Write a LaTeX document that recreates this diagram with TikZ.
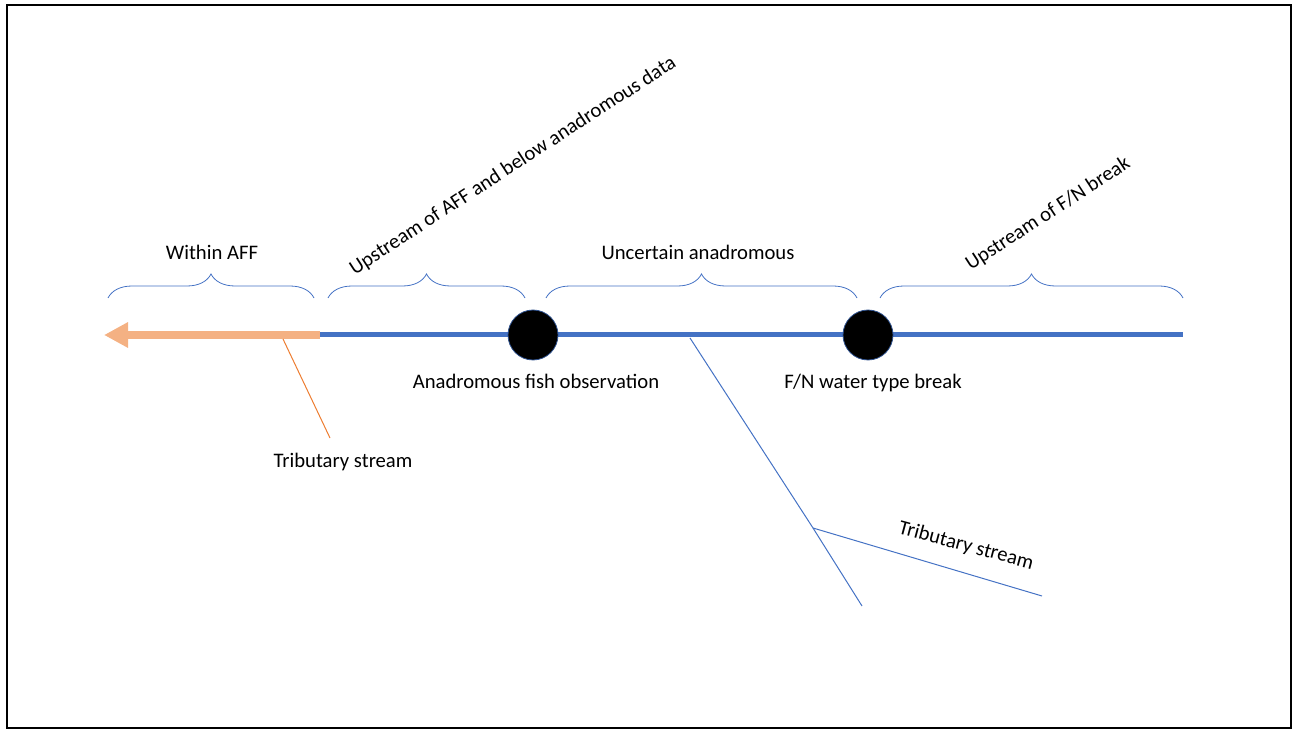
\documentclass[tikz,border=0pt]{standalone}
\usepackage{fontspec}
\setmainfont{Carlito}
\usetikzlibrary{arrows.meta,decorations.pathreplacing}
\definecolor{riverblue}{HTML}{4472C4}
\definecolor{darkrim}{HTML}{2F528F}
\definecolor{affpale}{HTML}{F4B183}
\definecolor{afforange}{HTML}{ED7D31}
\tikzset{
  reach/.style={draw=riverblue, line width=3.75pt},
  affreach/.style={draw=affpale, line width=6pt, -{Triangle[length=18pt,width=18pt]}},
  point/.style={circle, fill=black, draw=darkrim, line width=0.6pt, minimum size=37.5pt, inner sep=0pt},
  span/.style={draw=riverblue, line width=0.6pt, decorate, decoration={brace, amplitude=18pt, aspect=0.5}},
  trib/.style={draw=riverblue, line width=0.75pt},
  lbl/.style={font=\fontsize{15.5pt}{18pt}\selectfont, inner sep=1pt}
}
\begin{document}
\begin{tikzpicture}[x=0.75pt,y=-0.75pt]
\useasboundingbox (0,0) rectangle (1294,730);
\draw[line width=1.5pt] (7,5) rectangle (1291,728);

% main stream
\coordinate (west) at (104,335);
\coordinate (affend) at (320,335);
\coordinate (east) at (1183,335);
\draw[reach] (affend) -- (east);
\draw[affreach] (affend) -- (west);
\node[point] (obs) at (533,335) {};
\node[point] (fnbreak) at (868,335) {};
\node[lbl] (obslbl) at (536,381) {Anadromous fish observation};
\node[lbl] (fnlbl) at (873,383) {F/N water type break};

% tributaries
\coordinate (leftmouth) at (283,339);
\coordinate (leftend) at (330,438);
\draw[afforange, line width=0.75pt] (leftmouth) -- (leftend);
\node[lbl] (lefttrib) at (343,462) {Tributary stream};

\coordinate (rightmouth) at (690,338);
\coordinate (fork) at (813,528);
\coordinate (rightend) at (862,606);
\coordinate (branchend) at (1042,596);
\draw[trib] (rightmouth) -- (fork) -- (rightend);
\draw[trib] (fork) -- (branchend);
\node[lbl, rotate=-15] (righttrib) at (966,546) {Tributary stream};

% reaches
\draw[span] (108,298) -- (314,298);
\draw[span] (328,298) -- (525,298);
\draw[span] (546,298) -- (857,298);
\draw[span] (880,298) -- (1183,298);
\node[lbl] (within) at (212,252) {Within AFF};
\node[lbl, rotate=33] (below) at (513,166) {Upstream of AFF and below anadromous data};
\node[lbl] (uncertain) at (698,252) {Uncertain anadromous};
\node[lbl, rotate=33] (above) at (1048,214) {Upstream of F/N break};

\end{tikzpicture}
\end{document}
